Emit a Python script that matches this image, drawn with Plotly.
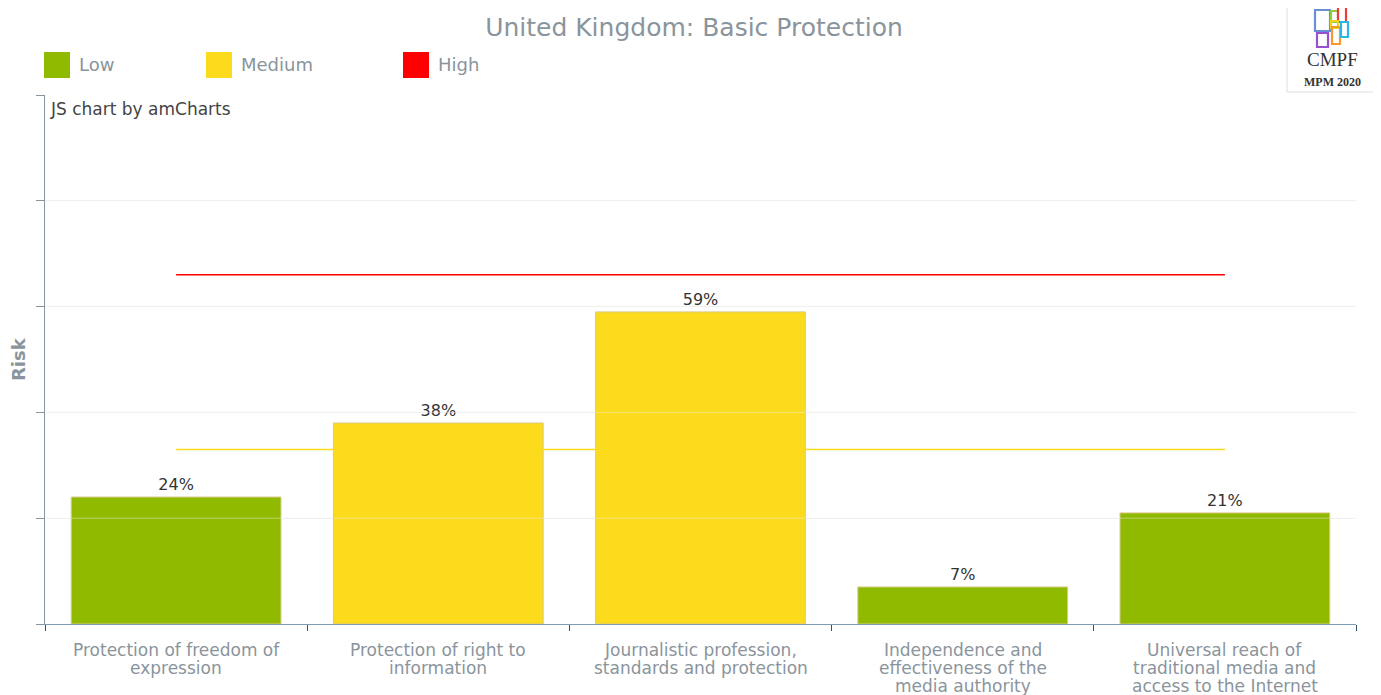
import plotly.graph_objects as go

# ---- data ----
categories = [
    "Protection of freedom of expression",
    "Protection of right to information",
    "Journalistic profession, standards and protection",
    "Independence and effectiveness of the media authority",
    "Universal reach of traditional media and access to the Internet",
]
category_lines = [
    ["Protection of freedom of", "expression"],
    ["Protection of right to", "information"],
    ["Journalistic profession,", "standards and protection"],
    ["Independence and", "effectiveness of the", "media authority"],
    ["Universal reach of", "traditional media and", "access to the Internet"],
]
risk_values = [24, 38, 59, 7, 21]
thresholds = [33, 66]
legend_labels = ["Low", "Medium", "High"]
title_text = "United Kingdom: Basic Protection"
y_title = "Risk"

# ---- style ----
OFF = 8  # page body margin
SW, SH = 1381, 695
W, H = SW - OFF, SH - OFF
PL, PR, PT, PB = 45, 1356, 95, 624   # plot area in screen px
L, R, T, B = PL - OFF, SW - PR, PT - OFF, SH - PB
PW, PH = PR - PL, PB - PT
GREEN, YELLOW, RED = "#8fba00", "#fbdb1b", "#ff0000"
GRAY = "#8a949c"
FONT = "DejaVu Sans"

def px(x):
    return (x - PL) / PW

def py(y):
    return (PB - y) / PH

def level_color(v):
    if v <= thresholds[0]:
        return GREEN
    if v <= thresholds[1]:
        return YELLOW
    return RED

fig = go.Figure()
fig.add_trace(go.Bar(
    x=categories, y=risk_values,
    marker=dict(color=[level_color(v) for v in risk_values],
                line=dict(color="#d9c98a", width=1)),
    text=[f"{v}%" for v in risk_values], textposition="outside",
    textfont=dict(family=FONT, size=16, color="#333333"),
    cliponaxis=False, hoverinfo="skip", showlegend=False,
))
for thr, col in zip(thresholds, [YELLOW, RED]):
    fig.add_trace(go.Scatter(
        x=[categories[0], categories[-1]], y=[thr, thr], mode="lines",
        line=dict(color=col, width=1.5), hoverinfo="skip", showlegend=False,
    ))

shapes = []
annotations = []

# category labels, line by line
for cat, lines in zip(categories, category_lines):
    for i, ln in enumerate(lines):
        annotations.append(dict(text=ln, x=cat, xref="x", yref="paper",
                                y=py(650 + 18 * i), xanchor="center", yanchor="middle",
                                showarrow=False,
                                font=dict(family=FONT, size=17, color=GRAY)))

# y axis title
annotations.append(dict(text=f"<b>{y_title}</b>", xref="paper", yref="paper",
                        x=px(18), y=py(359), xanchor="center", yanchor="middle",
                        textangle=-90, showarrow=False,
                        font=dict(family=FONT, size=18, color=GRAY)))

# faint gridlines drawn over the bars
for g in [20, 40, 60, 80]:
    shapes.append(dict(type="line", xref="paper", yref="y", x0=0, x1=1, y0=g, y1=g,
                       line=dict(color="rgba(240,240,240,0.45)", width=1), layer="above"))

# custom legend
leg_x = [44, 206, 403]
for lx, lab, col in zip(leg_x, legend_labels, [GREEN, YELLOW, RED]):
    shapes.append(dict(type="rect", xref="paper", yref="paper",
                       x0=px(lx), x1=px(lx + 26), y0=py(78), y1=py(52),
                       fillcolor=col, line=dict(width=0)))
    annotations.append(dict(text=lab, xref="paper", yref="paper",
                            x=px(lx + 33), y=py(65), xanchor="left", yanchor="middle",
                            showarrow=False, font=dict(family=FONT, size=18, color=GRAY)))

# watermark text
annotations.append(dict(text="JS chart by amCharts", xref="paper", yref="paper",
                        x=px(48), y=py(109), xanchor="left", yanchor="middle",
                        showarrow=False, font=dict(family=FONT, size=17, color="#444444")))

# logo box
shapes.append(dict(type="rect", xref="paper", yref="paper",
                   x0=px(1287), x1=px(1378), y0=py(92), y1=py(1),
                   fillcolor="white", line=dict(color="#dddddd", width=1)))
logo_rects = [
    (1315, 10, 1330, 31, "#6b8fd6"),
    (1331, 11, 1338, 22, "#8fcf3c"),
    (1338, 7, 1346, 22, "#ef3b3b"),
    (1331, 21, 1338, 28, "#f2d21b"),
    (1332, 27, 1340, 44, "#f39a2b"),
    (1341, 22, 1348, 37, "#2bb5e8"),
    (1317, 33, 1328, 47, "#9a4fd0"),
]
for x0, y0, x1, y1, c in logo_rects:
    shapes.append(dict(type="rect", xref="paper", yref="paper",
                       x0=px(x0), x1=px(x1), y0=py(y1), y1=py(y0),
                       fillcolor="rgba(0,0,0,0)", line=dict(color=c, width=2.2)))
annotations.append(dict(text="CMPF", xref="paper", yref="paper",
                        x=px(1332), y=py(59), xanchor="center", yanchor="middle",
                        showarrow=False, font=dict(family="Liberation Serif", size=19, color="#333333")))
annotations.append(dict(text="<b>MPM 2020</b>", xref="paper", yref="paper",
                        x=px(1332), y=py(82), xanchor="center", yanchor="middle",
                        showarrow=False, font=dict(family="Liberation Serif", size=12, color="#333333")))

fig.update_layout(
    width=W, height=H,
    margin=dict(l=L, r=R, t=T, b=B, autoexpand=False),
    paper_bgcolor="white", plot_bgcolor="white",
    title=dict(text=title_text, x=px(700), xanchor="center",
               y=1 - (27 - OFF) / H, yanchor="middle",
               font=dict(family=FONT, size=25, color=GRAY)),
    bargap=0.2,
    shapes=shapes, annotations=annotations,
    font=dict(family=FONT),
)
fig.update_xaxes(
    automargin=False,
    showline=True, linecolor="#7f9cb3", linewidth=1,
    ticks="outside", tickson="boundaries", ticklen=6, tickcolor="#2f5370",
    showticklabels=False, showgrid=False,
)
fig.update_yaxes(
    automargin=False,
    range=[0, 100], tickvals=[0, 20, 40, 60, 80, 100], showticklabels=False,
    showline=True, linecolor=GRAY, linewidth=1,
    ticks="outside", ticklen=8, tickcolor=GRAY,
    showgrid=True, gridcolor="#f0f0f0", zeroline=False,
)

fig.write_html("out.html")
